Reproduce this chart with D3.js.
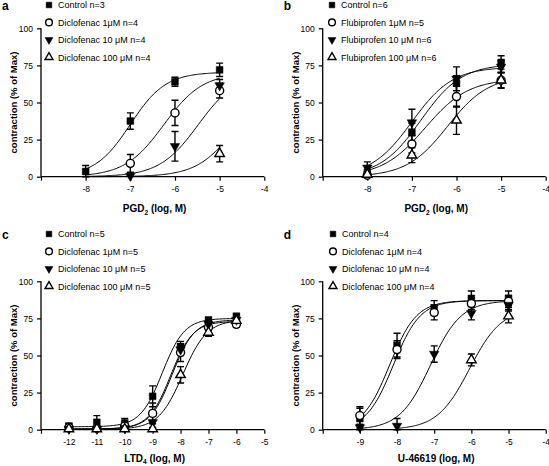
<!DOCTYPE html>
<html><head><meta charset="utf-8">
<script src="https://cdn.jsdelivr.net/npm/d3@7"></script>
<style>
body{margin:0;background:#fff;}
svg{display:block;font-family:"Liberation Sans",Arial,sans-serif;}
</style></head>
<body><svg id="chart" width="549" height="466"></svg>
<script>
// ---------- DATA ----------
const logA = [-8, -7, -6, -5];
const ctrlA = [3.5, 37.5, 64, 72],  ctrlAErr = [4, 5.5, 3, 4.5];
const dic1A = [null, 9, 43, 58],    dic1AErr = [0, 6, 8.5, 5];
const dic10A = [null, 0.5, 20.5, 61.5], dic10AErr = [0, 0, 10, 4];
const dic100A = [null, null, null, 15.5], dic100AErr = [0, 0, 0, 5.5];

const logB = [-8, -7, -6, -5];
const ctrlB = [2, 30, 63, 77],   ctrlBErr = [3, 6, 5, 4.5];
const flu1B = [1, 22, 54, 65],   flu1BErr = [2, 6, 7, 5.5];
const flu10B = [6, 36.5, 66, 74], flu10BErr = [4, 9, 8, 4];
const flu100B = [1.5, 14.5, 38, 65], flu100BErr = [2, 5, 9.5, 5];

const logC = [-12, -11, -10, -9, -8, -7, -6];
const ctrlC = [2.5, 5, 4.5, 22.5, 56, 74, 76.5], ctrlCErr = [1.5, 4.5, 3, 7, 3.5, 1.5, 1.5];
const dic1C = [1.5, 1, 2.5, 11, 52, 69, 71],     dic1CErr = [1, 1, 2, 7, 6, 2, 2];
const dic10C = [0.5, 0.5, 1, 5, 54, 71, 74],     dic10CErr = [0.5, 0.5, 1, 4, 4, 2, 1.5];
const dic100C = [0.5, 0.5, 0.5, 0.5, 37, 65.5, 73.5], dic100CErr = [0.5, 0.5, 0.5, 1, 5.5, 2.5, 1.5];

const logD = [-9, -8, -7, -6, -5];
const ctrlD = [7.5, 57, 82, 88.5, 88.5], ctrlDErr = [7, 8, 5, 5, 5];
const dic1D = [9.5, 54, 79, 85, 86.5],   dic1DErr = [6, 6, 5, 4, 4];
const dic10D = [1.5, 2.5, 51, 78.5, 84], dic10DErr = [2, 5, 5.5, 4.5, 4];
const dic100D = [null, null, null, 47, 76.5], dic100DErr = [0, 0, 0, 4, 4.5];

// fitted curves: [bottom, top, logEC50, hill, from, to]
const fitA = [[0, 70.5, -7.0, 1.1, -8, -5], [0, 70, -6.25, 1, -8, -5], [0, 70, -5.48, 1, -8, -5], [0, 70, -4.6, 1, -8, -5]];
const fitB = [[0, 76, -6.8, 0.95, -8, -5], [0, 66, -6.7, 0.9, -8, -5], [0, 74, -7.0, 0.95, -8, -5], [0, 68, -6.2, 0.95, -8, -5]];
const fitC = [[2, 75, -8.65, 1.1, -12, -6], [0.5, 73, -8.35, 1.1, -12, -6], [0.5, 74, -8.3, 1.1, -12, -6], [0.3, 74, -7.92, 1.0, -12, -6]];
const fitD = [[0, 87, -8.2, 1.2, -9, -5], [0, 87, -8.1, 1.2, -9, -5], [0, 87, -7.1, 1.05, -9, -5], [0, 82, -6.05, 1.0, -8, -5]];

const legendA = ["Control n=3", "Diclofenac 1\u03bcM n=4", "Diclofenac 10 \u03bcM n=4", "Diclofenac 100 \u03bcM n=4"];
const legendB = ["Control n=6", "Flubiprofen 1\u03bcM n=5", "Flubiprofen 10 \u03bcM n=6", "Flubiprofen 100 \u03bcM n=6"];
const legendC = ["Control n=5", "Diclofenac 1\u03bcM n=5", "Diclofenac 10 \u03bcM n=5", "Diclofenac 100 \u03bcM n=5"];
const legendD = ["Control n=4", "Diclofenac 1\u03bcM n=4", "Diclofenac 10 \u03bcM n=4", "Diclofenac 100 \u03bcM n=4"];

const yTicks = [0, 25, 50, 75, 100];
const yTitle = "contraction (% of Max)";
const xTitles = [["PGD", "2", " (log, M)"], ["PGD", "2", " (log, M)"], ["LTD", "4", " (log, M)"], ["U-46619 (log, M)", "", ""]];
const panelLetters = ["a", "b", "c", "d"];
const markerKinds = ["square", "circle", "down", "up"];

// ---------- LAYOUT ----------
const panels = [
  {letter: 0, xDom: [-9, -4],  xR: [41, 264.3],  yR: [176.7, 28.3], lx: 49,  ly: 5,   log: logA, tY: 212,
   series: [[ctrlA, ctrlAErr], [dic1A, dic1AErr], [dic10A, dic10AErr], [dic100A, dic100AErr]], fit: fitA, legend: legendA, titleX: 0},
  {letter: 1, xDom: [-9, -4],  xR: [322.7, 545.7], yR: [176.7, 28.3], lx: 332, ly: 5, log: logB, tY: 212,
   series: [[ctrlB, ctrlBErr], [flu1B, flu1BErr], [flu10B, flu10BErr], [flu100B, flu100BErr]], fit: fitB, legend: legendB, titleX: 1},
  {letter: 2, xDom: [-13, -5], xR: [41, 264.3],  yR: [429.7, 281.3], lx: 49, ly: 234, log: logC, tY: 461.5,
   series: [[ctrlC, ctrlCErr], [dic1C, dic1CErr], [dic10C, dic10CErr], [dic100C, dic100CErr]], fit: fitC, legend: legendC, titleX: 2},
  {letter: 3, xDom: [-10, -4], xR: [322.7, 545.7], yR: [429.7, 281.3], lx: 333, ly: 234, log: logD, tY: 461.5,
   series: [[ctrlD, ctrlDErr], [dic1D, dic1DErr], [dic10D, dic10DErr], [dic100D, dic100DErr]], fit: fitD, legend: legendD, titleX: 3},
];

const svg = d3.select("#chart");

function drawMarker(g, kind, x, y, size) {
  let sym, rot = 0, fill = "#000";
  if (kind === "square") sym = d3.symbolSquare;
  else if (kind === "circle") { sym = d3.symbolCircle; fill = "#fff"; }
  else if (kind === "down") { sym = d3.symbolTriangle; rot = 180; }
  else { sym = d3.symbolTriangle; fill = "#fff"; }
  const s = kind === "circle" ? size * 1.1 : (kind === "square" ? size : size * 0.85);
  g.append("path")
    .attr("d", d3.symbol().type(sym).size(s)())
    .attr("transform", `translate(${x},${y}) rotate(${rot})`)
    .attr("fill", fill).attr("stroke", "#000")
    .attr("stroke-width", fill === "#fff" ? 1.4 : 0.5);
}

panels.forEach(p => {
  const x = d3.scaleLinear().domain(p.xDom).range(p.xR);
  const y = d3.scaleLinear().domain([0, 100]).range(p.yR);
  const g = svg.append("g");

  // y axis
  const yAx = g.append("g").attr("transform", `translate(${p.xR[0]},0)`)
    .call(d3.axisLeft(y).tickValues(yTicks).tickSize(4).tickPadding(4).tickFormat(d3.format("d")));
  yAx.select(".domain").attr("d", `M0,${p.yR[0]}V${p.yR[1]}`).attr("stroke-width", 1.3);
  yAx.selectAll(".tick line").attr("stroke-width", 1.2);
  yAx.selectAll("text").attr("font-size", 8.5).attr("font-family", "Liberation Sans, Arial, sans-serif");

  // x axis
  const xt = d3.range(p.xDom[0], p.xDom[1] + 1);
  const xAx = g.append("g").attr("transform", `translate(0,${p.yR[0]})`)
    .call(d3.axisBottom(x).tickValues(xt).tickSize(4).tickPadding(5)
      .tickFormat(d => d === p.xDom[0] ? "" : String(d)));
  xAx.select(".domain").attr("d", `M${p.xR[0]},0H${p.xR[1]}`).attr("stroke-width", 1.3);
  xAx.selectAll(".tick line").attr("stroke-width", 1.2);
  xAx.selectAll("text").attr("font-size", 8.5).attr("font-family", "Liberation Sans, Arial, sans-serif");

  // x title
  const tt = xTitles[p.titleX];
  const xtText = g.append("text")
    .attr("x", (p.xR[0] + p.xR[1]) / 2 + 2).attr("y", p.tY)
    .attr("text-anchor", "middle").attr("font-size", 10).attr("font-weight", "bold");
  xtText.append("tspan").text(tt[0]);
  if (tt[1]) {
    xtText.append("tspan").attr("font-size", 6.5).attr("dy", 2.5).text(tt[1]);
    xtText.append("tspan").attr("dy", -2.5).text(tt[2]);
  }

  // y title
  g.append("text")
    .attr("transform", `translate(${p.xR[0] - 24},${(p.yR[0] + p.yR[1]) / 2}) rotate(-90)`)
    .attr("text-anchor", "middle").attr("font-size", 9.5).attr("font-weight", "bold")
    .text(yTitle);

  // panel letter
  g.append("text").attr("x", p.xR[0] - 39).attr("y", p.ly + 4.5)
    .attr("font-size", 12).attr("font-weight", "bold").text(panelLetters[p.letter]);

  // curves
  const line = d3.line().x(d => x(d[0])).y(d => y(d[1]));
  p.fit.forEach(f => {
    const [bot, top, ec, h, from, to] = f;
    const pts = d3.range(0, 121).map(i => {
      const lx = from + (to - from) * i / 120;
      return [lx, bot + (top - bot) / (1 + Math.pow(10, (ec - lx) * h))];
    });
    g.append("path").attr("d", line(pts)).attr("fill", "none")
      .attr("stroke", "#000").attr("stroke-width", 1);
  });

  // error bars
  p.series.forEach(([vals, errs]) => {
    vals.forEach((v, i) => {
      if (v === null || !errs[i]) return;
      const cx = x(p.log[i]);
      const y1 = y(v + errs[i]), y0 = y(Math.max(0, v - errs[i]));
      g.append("path")
        .attr("d", `M${cx},${y0}V${y1}M${cx - 3.5},${y1}H${cx + 3.5}M${cx - 3.5},${y0}H${cx + 3.5}`)
        .attr("stroke", "#000").attr("stroke-width", 1.4).attr("fill", "none");
    });
  });

  // markers
  p.series.forEach(([vals], si) => {
    vals.forEach((v, i) => {
      if (v === null) return;
      drawMarker(g, markerKinds[si], x(p.log[i]), y(v), 46);
    });
  });

  // legend
  p.legend.forEach((t, i) => {
    const ly = p.ly + i * 17.4;
    drawMarker(g, markerKinds[i], p.lx, ly, 32);
    g.append("text").attr("x", p.lx + 9).attr("y", ly + 3.3)
      .attr("font-size", 9).text(t);
  });
});
</script></body></html>
